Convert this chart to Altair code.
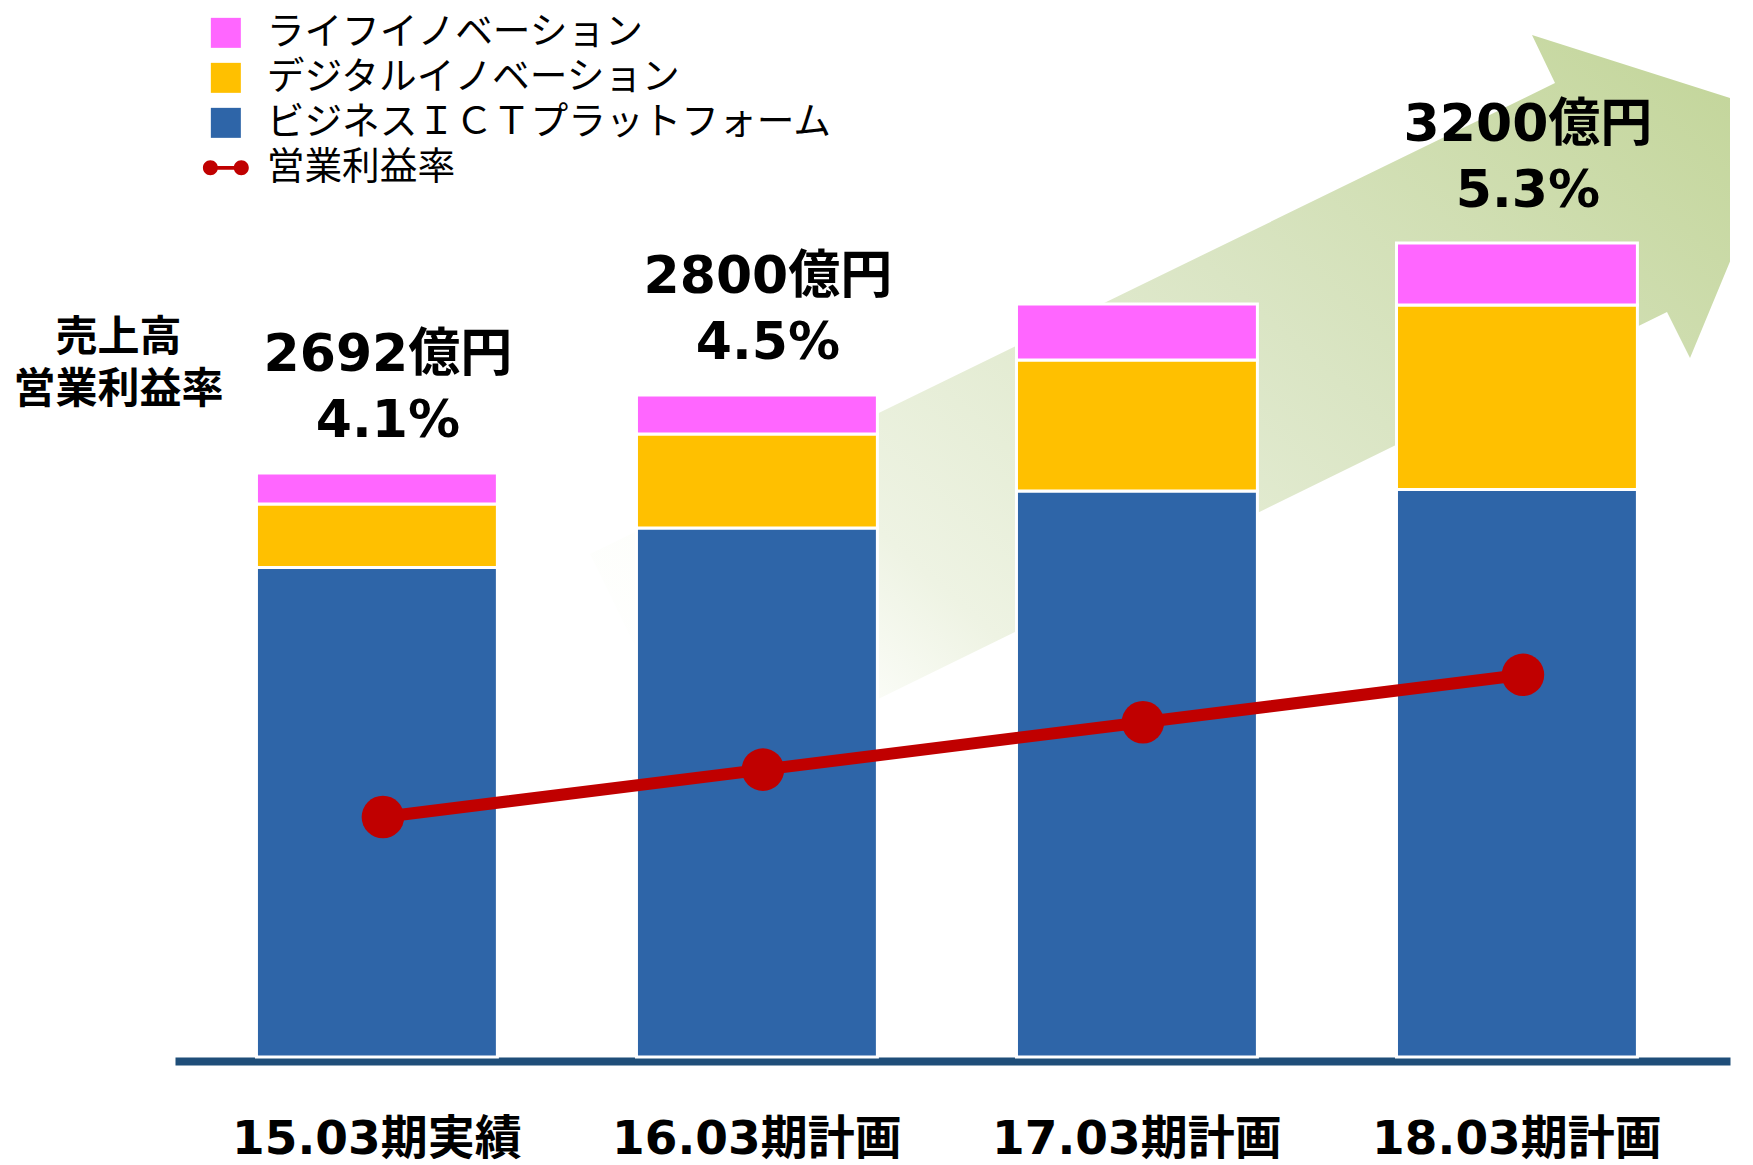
import altair as alt
import pandas as pd

# ---------------- data ----------------
periods = ["15.03期実績", "16.03期計画", "17.03期計画", "18.03期計画"]
series_names = ["ライフイノベーション", "デジタルイノベーション", "ビジネスＩＣＴプラットフォーム", "営業利益率"]
series_colors = ["#FF66FF", "#FFC000", "#2E65A8", "#C00000"]

# bar segment heights as drawn (relative units)
business_ict = [489.5, 529, 566, 567.5]
digital_innovation = [63.5, 94, 131, 184.5]
life_innovation = [31, 39, 56, 62]

# operating margin (%)
operating_margin = [4.1, 4.5, 4.9, 5.3]

sales_labels = ["2692億円", "2800億円", "", "3200億円"]
margin_labels = ["4.1%", "4.5%", "", "5.3%"]

y_title = ["売上高", "営業利益率"]

# decorative growth arrow outline (plot-area pixels)
arrow_outline = [[415, 554], [1380, 83], [1357, 35], [1615, 117],
                 [1515, 358], [1492, 312], [528, 785], [415, 554]]

# ---------------- tables ----------------
rows = []
for i, p in enumerate(periods):
    rows.append({"period": p, "series": series_names[2], "value": business_ict[i], "rank": 0})
    rows.append({"period": p, "series": series_names[1], "value": digital_innovation[i], "rank": 1})
    rows.append({"period": p, "series": series_names[0], "value": life_innovation[i], "rank": 2})
bars_df = pd.DataFrame(rows)

totals = [b + d + l for b, d, l in zip(business_ict, digital_innovation, life_innovation)]
labels_df = pd.DataFrame({"period": periods, "total": totals,
                          "sales": sales_labels, "pct": margin_labels})
line_df = pd.DataFrame({"period": periods, "margin": operating_margin,
                        "series": [series_names[3]] * len(periods)})

arrow_feature = {"type": "Feature", "properties": {},
                 "geometry": {"type": "Polygon", "coordinates": [arrow_outline]}}

# ---------------- styling ----------------
LATIN_BOLD = "DejaVu Sans, Noto Sans CJK JP"
CJK = "Noto Sans CJK JP"

x_enc = alt.X(
    "period:N", sort=periods,
    scale=alt.Scale(paddingInner=0.366, paddingOuter=0.229, align=0.468),
    axis=alt.Axis(title=None, labelAngle=0, ticks=False, tickSize=0, grid=False,
                  domainColor="#1F4E79", domainWidth=8, labelLimit=800,
                  labelFont=LATIN_BOLD, labelFontSize=47, labelFontWeight="bold",
                  labelColor="black", labelPadding=55, labelBaseline="top"),
)

bar_scale = alt.Scale(domain=[-4, 1057], nice=False)
color_scale = alt.Scale(domain=series_names, range=series_colors)

# dumbbell legend glyph: two dots joined by a bar (all sub-paths same winding)
dumbbell = ("M-1.53,0A0.5,0.5,0,1,0,-0.53,0A0.5,0.5,0,1,0,-1.53,0Z"
            "M0.53,0A0.5,0.5,0,1,0,1.53,0A0.5,0.5,0,1,0,0.53,0Z"
            "M-1.03,-0.13L-1.03,0.13L1.03,0.13L1.03,-0.13Z")
legend_obj = alt.Legend(
    title=None,
    symbolType=alt.ExprRef(expr="datum.value === '営業利益率' ? '" + dumbbell + "' : 'square'"),
)

# ---------------- layers ----------------
arrow = alt.Chart(alt.Data(values=[arrow_feature])).mark_geoshape(
    fill={"gradient": "linear", "x1": 0, "y1": 0.85, "x2": 1, "y2": 0.15,
          "stops": [{"offset": 0.0, "color": "#FFFFFF"},
                    {"offset": 0.12, "color": "#FDFEFB"},
                    {"offset": 0.25, "color": "#EEF3E3"},
                    {"offset": 0.6, "color": "#DAE5C4"},
                    {"offset": 1.0, "color": "#C4D69C"}]},
    strokeOpacity=0,
).project(type="identity", scale=1, translate=[0, 0])

bars = alt.Chart(bars_df).mark_bar(stroke="white", strokeWidth=3).encode(
    x=x_enc,
    y=alt.Y("value:Q", stack="zero", scale=bar_scale,
            axis=alt.Axis(title=y_title, titleAngle=0, titleX=-57, titleY=317,
                          titleAlign="center", titleBaseline="top",
                          titleFont=CJK, titleFontSize=42, titleFontWeight="bold",
                          titleColor="black", titleLineHeight=52,
                          labels=False, ticks=False, domain=False, grid=False)),
    color=alt.Color("series:N", scale=color_scale, legend=legend_obj),
    order=alt.Order("rank:Q"),
)

t_sales = alt.Chart(labels_df).mark_text(
    font=LATIN_BOLD, fontSize=52, fontWeight="bold", color="black",
    baseline="middle", dy=-118, dx=11,
).encode(x=x_enc, y=alt.Y("total:Q", scale=bar_scale), text="sales:N")

t_pct = alt.Chart(labels_df).mark_text(
    font=LATIN_BOLD, fontSize=52, fontWeight="bold", color="black",
    baseline="middle", dy=-52, dx=11,
).encode(x=x_enc, y=alt.Y("total:Q", scale=bar_scale), text="pct:N")

margin_scale = alt.Scale(domain=[2.041, 10.995], nice=False)

line = alt.Chart(line_df).mark_line(color="#C00000", strokeWidth=12, xOffset=6).encode(
    x=x_enc, y=alt.Y("margin:Q", scale=margin_scale, axis=None))

points = alt.Chart(line_df).mark_circle(size=1810, opacity=1, xOffset=6).encode(
    x=x_enc, y=alt.Y("margin:Q", scale=margin_scale, axis=None),
    color=alt.Color("series:N", scale=color_scale, legend=legend_obj))

bar_group = alt.layer(bars, t_sales, t_pct)
line_group = alt.layer(line, points)

chart = alt.layer(arrow, bar_group, line_group).resolve_scale(
    y="independent"
).properties(
    width=1555, height=1061,
    autosize=alt.AutoSizeParams(type="none"),
    padding={"left": 175, "top": 0, "right": 23, "bottom": 104},
    background="white",
).configure_view(strokeWidth=0).configure_legend(
    orient="none", legendX=32, legendY=14, padding=0, direction="vertical",
    symbolSize=900, labelFont=CJK, labelFontSize=37.7, labelColor="black",
    labelOffset=22, rowPadding=6, labelLimit=700,
    symbolStrokeWidth=0, symbolOpacity=1,
)

chart.save("out.html", embed_options={"renderer": "svg", "actions": False})
